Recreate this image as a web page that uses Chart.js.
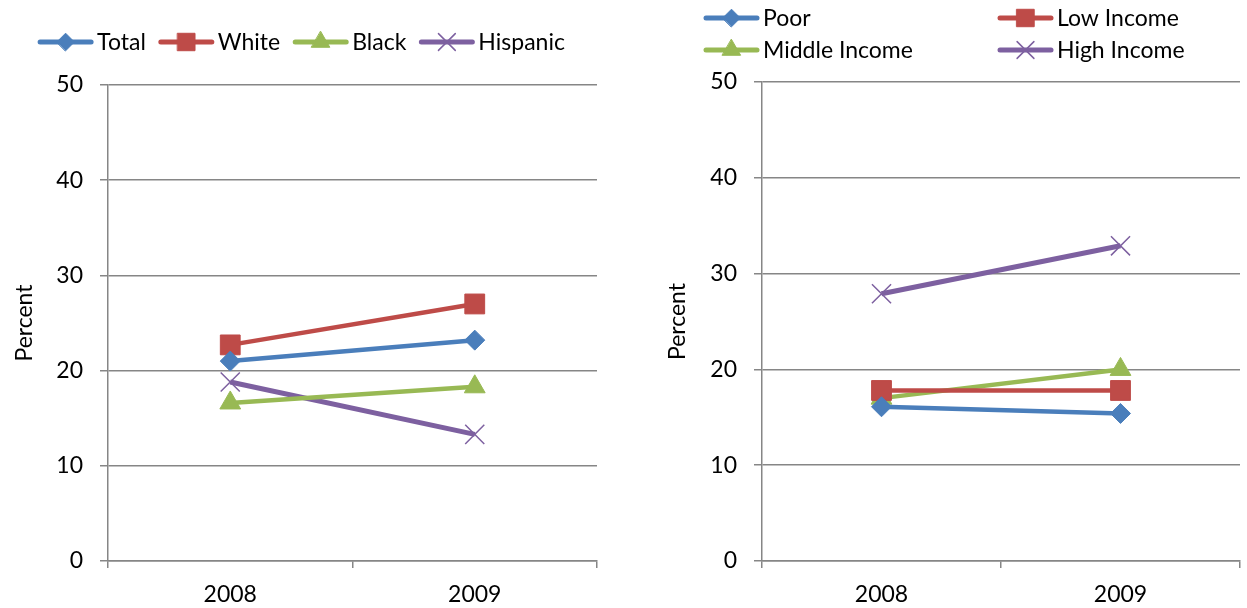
<!DOCTYPE html>
<html>
<head>
<meta charset="utf-8">
<script src="https://cdn.jsdelivr.net/npm/chart.js@4.4.1/dist/chart.umd.min.js"></script>
<style>
  html, body { margin: 0; padding: 0; background: #fff; overflow: hidden; }
  .panel { position: absolute; top: 0; }
</style>
</head>
<body>
<div class="panel" style="left:0"><canvas id="raceChart" width="620" height="608"></canvas></div>
<div class="panel" style="left:655px"><canvas id="incomeChart" width="600" height="608"></canvas></div>
<script>
// Years on the x axis
const years = ['2008', '2009'];

// Percent by race / ethnicity
const totalPct = [21.0, 23.2];
const whitePct = [22.7, 27.0];
const blackPct = [16.6, 18.3];
const hispanicPct = [18.8, 13.3];

// Percent by family income
const poorPct = [16.1, 15.4];
const lowIncomePct = [17.8, 17.8];
const middleIncomePct = [17.0, 20.0];
const highIncomePct = [27.9, 32.9];

// y axis range
const yMin = 0;
const yMax = 50;
const yStep = 10;

const FONT = 'Lato, "Open Sans", sans-serif';
const FONT_SIZE = 23;
const GRID = '#868686';

const BLUE = '#4a7ebb';
const RED = '#be4b48';
const GREEN = '#98b954';
const PURPLE = '#7d60a0';

Chart.defaults.font.family = FONT;
Chart.defaults.font.size = FONT_SIZE;
Chart.defaults.color = '#000';

function series(label, data, color, style) {
    const isCross = style === 'crossRot';
    const radius = { rectRot: 10, rect: 14, triangle: 12, crossRot: 13.5 }[style];
    return {
        label: label,
        data: data,
        borderColor: color,
        backgroundColor: color,
        borderWidth: isCross ? 5 : 4.5,
        pointStyle: style,
        pointRadius: radius,
        pointBorderWidth: isCross ? 1.5 : 1,
        pointBackgroundColor: color,
        pointBorderColor: color,
        tension: 0
    };
}

// Legend drawn as line + marker + text, either in one centered row or in a grid
const lineLegend = {
    id: 'lineLegend',
    afterDraw(chart, args, opts) {
        const ctx = chart.ctx;
        ctx.save();
        ctx.font = opts.fontSize + 'px ' + FONT;
        ctx.textBaseline = 'middle';
        ctx.textAlign = 'left';
        const sets = chart.data.datasets;
        const widths = sets.map(ds => opts.lineLength + opts.textGap + ctx.measureText(ds.label).width);
        let x = 0;
        if (!opts.columns) {
            const total = widths.reduce((a, b) => a + b, 0) + opts.itemGap * (sets.length - 1);
            x = opts.centerX - total / 2;
        }
        sets.forEach((ds, i) => {
            let lx, ly;
            if (opts.columns) {
                lx = opts.columns[i % opts.columns.length];
                ly = opts.rows[Math.floor(i / opts.columns.length)];
            } else {
                lx = x;
                ly = opts.y;
                x += widths[i] + opts.itemGap;
            }
            ctx.strokeStyle = ds.borderColor;
            ctx.lineWidth = 5;
            ctx.lineCap = 'round';
            ctx.beginPath();
            ctx.moveTo(lx + 3, ly);
            ctx.lineTo(lx + opts.lineLength - 3, ly);
            ctx.stroke();
            ctx.fillStyle = ds.pointBackgroundColor;
            ctx.strokeStyle = ds.pointBorderColor;
            ctx.lineWidth = ds.pointBorderWidth;
            Chart.helpers.drawPoint(ctx, {
                pointStyle: ds.pointStyle,
                radius: ds.pointRadius * 0.88,
                rotation: 0,
                borderWidth: ds.pointBorderWidth
            }, lx + opts.lineLength / 2, ly);
            ctx.fillStyle = '#000';
            ctx.fillText(ds.label, lx + opts.lineLength + opts.textGap, ly + 1);
        });
        ctx.restore();
    }
};

function makeOptions(cfg) {
    return {
        responsive: false,
        animation: false,
        layout: { padding: { top: cfg.top, right: cfg.right, bottom: 0, left: 0 } },
        plugins: {
            legend: { display: false },
            tooltip: { enabled: false },
            lineLegend: cfg.legend
        },
        scales: {
            x: {
                offset: true,
                grid: { display: true, offset: true, drawOnChartArea: false, drawTicks: true, tickLength: 7, color: GRID, lineWidth: 1.5 },
                border: { display: true, color: GRID, width: 1.5 },
                ticks: { padding: 13, font: { size: FONT_SIZE } },
                afterFit: s => { s.height = 47; }
            },
            y: {
                min: yMin,
                max: yMax,
                ticks: { stepSize: yStep, padding: 17, font: { size: FONT_SIZE } },
                grid: { color: GRID, lineWidth: 1.5, tickLength: 8 },
                border: { display: true, color: GRID, width: 1.5 },
                title: { display: true, text: 'Percent', font: { size: FONT_SIZE }, padding: { top: cfg.titlePad, bottom: 0 } },
                afterFit: s => { s.width = cfg.axisWidth; }
            }
        }
    };
}

new Chart(document.getElementById('raceChart'), {
    type: 'line',
    data: {
        labels: years,
        datasets: [
            series('Total', totalPct, BLUE, 'rectRot'),
            series('White', whitePct, RED, 'rect'),
            series('Black', blackPct, GREEN, 'triangle'),
            series('Hispanic', hispanicPct, PURPLE, 'crossRot')
        ]
    },
    options: makeOptions({
        top: 85, right: 23, axisWidth: 108, titlePad: 11,
        legend: { fontSize: FONT_SIZE, lineLength: 57, textGap: 3, itemGap: 12, centerX: 301, y: 42 }
    }),
    plugins: [lineLegend]
});

new Chart(document.getElementById('incomeChart'), {
    type: 'line',
    data: {
        labels: years,
        datasets: [
            series('Poor', poorPct, BLUE, 'rectRot'),
            series('Low Income', lowIncomePct, RED, 'rect'),
            series('Middle Income', middleIncomePct, GREEN, 'triangle'),
            series('High Income', highIncomePct, PURPLE, 'crossRot')
        ]
    },
    options: makeOptions({
        top: 82, right: 7, axisWidth: 107, titlePad: 9,
        legend: { fontSize: FONT_SIZE, lineLength: 57, textGap: 3, columns: [48, 342], rows: [18, 50] }
    }),
    plugins: [lineLegend]
});
</script>
</body>
</html>
